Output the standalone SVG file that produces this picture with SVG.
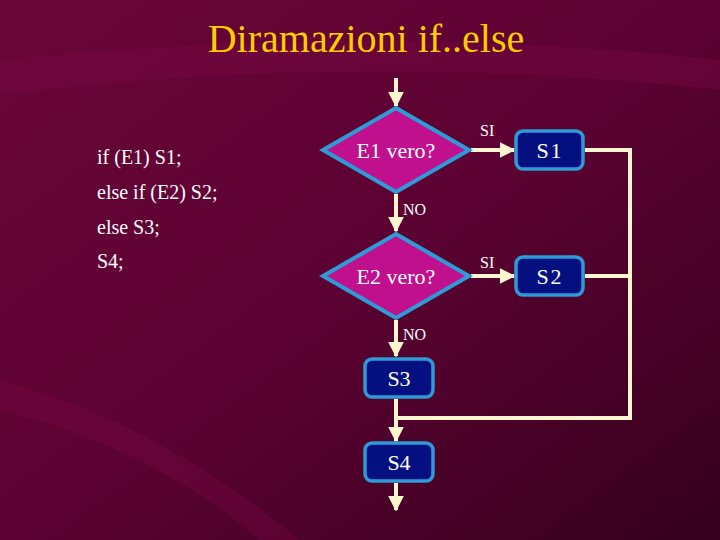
<svg xmlns="http://www.w3.org/2000/svg" width="720" height="540" viewBox="0 0 720 540" font-family="'Liberation Serif', 'Times New Roman', 'DejaVu Serif', serif">
<defs>
<linearGradient id="bg" x1="0" y1="0" x2="1" y2="1">
<stop offset="0" stop-color="#6a0638"/><stop offset="0.5" stop-color="#5c0232"/><stop offset="1" stop-color="#35001c"/>
</linearGradient>
<marker id="ah" viewBox="0 0 10 10" refX="9" refY="5" markerWidth="4" markerHeight="4" orient="auto" markerUnits="strokeWidth"><path d="M0,0 L10,5 L0,10 Z" fill="#fff6d0"/></marker>
<style>
.ln{stroke:#fff6d0;stroke-width:4;fill:none}
.dia{fill:#c0108e;stroke:#2e9bd6;stroke-width:4}
.box{fill:#051080;stroke:#2e9bd6;stroke-width:3.5}
text{font-family:'Liberation Serif','Times New Roman','DejaVu Serif',serif;fill:#ffffff}
.sp{letter-spacing:2px}
</style>
</defs>
<rect width="720" height="540" fill="url(#bg)"/>
<path d="M0,60 C200,40 450,30 720,60 L720,90 C450,60 200,70 0,95 Z" fill="#7a0a45" opacity="0.35"/>
<path d="M0,380 C150,420 250,500 300,540 L260,540 C200,490 120,440 0,410 Z" fill="#7a0a45" opacity="0.35"/>
<text x="366" y="52" font-size="40" style="fill:#ffcc00" text-anchor="middle">Diramazioni if..else</text>
<g id="code" font-size="20">
<text x="97" y="164">if  (E1) S1;</text>
<text x="97" y="199">else if (E2) S2;</text>
<text x="97" y="234">else S3;</text>
<text x="97" y="268">S4;</text>
</g>
<g id="connectors">
<line class="ln" x1="396" y1="78" x2="396" y2="106" marker-end="url(#ah)"/>
<line class="ln" x1="471" y1="150" x2="514" y2="150" marker-end="url(#ah)"/>
<line class="ln" x1="396" y1="194" x2="396" y2="231" marker-end="url(#ah)"/>
<line class="ln" x1="471" y1="276" x2="514" y2="276" marker-end="url(#ah)"/>
<line class="ln" x1="396" y1="320" x2="396" y2="356" marker-end="url(#ah)"/>
<polyline class="ln" points="585,150 630,150 630,418 396,418"/>
<line class="ln" x1="585" y1="276" x2="630" y2="276"/>
<line class="ln" x1="396" y1="399" x2="396" y2="441" marker-end="url(#ah)"/>
<line class="ln" x1="396" y1="483" x2="396" y2="510" marker-end="url(#ah)"/>
<text x="480" y="136" font-size="16">SI</text>
<text x="480" y="268" font-size="16">SI</text>
<text x="403" y="215" font-size="16">NO</text>
<text x="403" y="340" font-size="16">NO</text>
</g>
<g id="e1"><polygon class="dia" points="396,108 469,150 396,192 323,150"/><text x="396" y="158" font-size="22" text-anchor="middle">E1 vero?</text></g>
<g id="e2"><polygon class="dia" points="396,234 469,276 396,318 323,276"/><text x="396" y="284" font-size="22" text-anchor="middle">E2 vero?</text></g>
<g id="s1"><rect class="box" x="516" y="131" width="67" height="38" rx="7"/><text class="sp" x="550" y="158" font-size="22" text-anchor="middle">S1</text></g>
<g id="s2"><rect class="box" x="516" y="257" width="67" height="38" rx="7"/><text class="sp" x="550" y="284" font-size="22" text-anchor="middle">S2</text></g>
<g id="s3"><rect class="box" x="365" y="359" width="68" height="38" rx="7"/><text x="399" y="386" font-size="22" text-anchor="middle">S3</text></g>
<g id="s4"><rect class="box" x="365" y="443" width="68" height="38" rx="7"/><text x="399" y="470" font-size="22" text-anchor="middle">S4</text></g>
</svg>
